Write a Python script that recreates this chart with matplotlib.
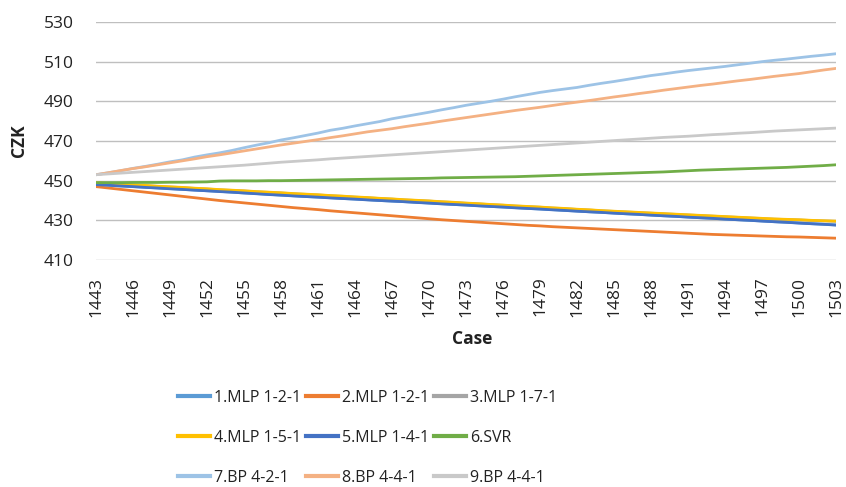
import matplotlib
matplotlib.use("Agg")
import matplotlib.pyplot as plt
from matplotlib.lines import Line2D

cases = list(range(1443, 1504))
tick_cases = list(range(1443, 1504, 3))
y_ticks = [410, 430, 450, 470, 490, 510, 530]

labels = ["1.MLP 1-2-1", "2.MLP 1-2-1", "3.MLP 1-7-1", "4.MLP 1-5-1", "5.MLP 1-4-1",
          "6.SVR", "7.BP 4-2-1", "8.BP 4-4-1", "9.BP 4-4-1"]
colors = ["#5B9BD5", "#ED7D31", "#A5A5A5", "#FFC000", "#4472C4", "#70AD47",
          "#9DC3E6", "#F4B183", "#C9C9C9"]

mlp_141 = [448.0, 447.7, 447.3, 447.0, 446.6, 446.3, 445.9, 445.6, 445.2, 444.9,
           444.5, 444.2, 443.8, 443.4, 443.0, 442.7, 442.3, 442.0, 441.7, 441.3,
           441.0, 440.7, 440.3, 440.0, 439.7, 439.4, 439.0, 438.7, 438.3, 438.0,
           437.7, 437.3, 437.0, 436.7, 436.3, 436.0, 435.7, 435.3, 435.0, 434.6,
           434.3, 434.0, 433.6, 433.3, 433.0, 432.6, 432.3, 432.0, 431.6, 431.3,
           431.0, 430.6, 430.3, 430.0, 429.6, 429.3, 429.0, 428.6, 428.3, 428.0,
           427.6]
mlp_121a = [448.1, 447.7, 447.4, 447.0, 446.7, 446.3, 446.0, 445.6, 445.3, 444.9,
            444.6, 444.2, 443.8, 443.5, 443.1, 442.7, 442.4, 442.0, 441.7, 441.4,
            441.0, 440.7, 440.4, 440.0, 439.7, 439.4, 439.1, 438.7, 438.4, 438.0,
            437.7, 437.4, 437.0, 436.7, 436.4, 436.0, 435.7, 435.4, 435.0, 434.7,
            434.3, 434.0, 433.7, 433.3, 433.0, 432.7, 432.3, 432.0, 431.7, 431.3,
            431.0, 430.7, 430.3, 430.0, 429.7, 429.3, 429.0, 428.7, 428.3, 428.0,
            427.7]
mlp_121b = [447.0, 446.3, 445.6, 444.9, 444.2, 443.5, 442.8, 442.1, 441.4, 440.7,
            440.0, 439.4, 438.8, 438.2, 437.6, 437.0, 436.4, 435.9, 435.4, 434.8,
            434.3, 433.8, 433.3, 432.8, 432.3, 431.8, 431.3, 430.8, 430.3, 429.9,
            429.5, 429.1, 428.7, 428.3, 427.9, 427.5, 427.2, 426.8, 426.5, 426.2,
            425.9, 425.6, 425.3, 425.0, 424.7, 424.4, 424.1, 423.8, 423.5, 423.2,
            422.9, 422.7, 422.5, 422.3, 422.1, 421.9, 421.7, 421.6, 421.4, 421.2,
            421.0]
mlp_171 = [448.9, 448.5, 448.2, 447.8, 447.5, 447.1, 446.8, 446.5, 446.1, 445.8,
           445.4, 445.1, 444.8, 444.4, 444.1, 443.8, 443.4, 443.1, 442.8, 442.4,
           442.1, 441.7, 441.4, 441.0, 440.7, 440.3, 440.0, 439.7, 439.3, 439.0,
           438.6, 438.3, 437.9, 437.6, 437.2, 436.9, 436.6, 436.2, 435.9, 435.5,
           435.2, 434.8, 434.5, 434.2, 433.9, 433.6, 433.3, 433.0, 432.7, 432.4,
           432.1, 431.8, 431.5, 431.2, 430.9, 430.6, 430.4, 430.2, 429.9, 429.7,
           429.5]
mlp_151 = [449.0, 448.6, 448.3, 447.9, 447.6, 447.2, 446.9, 446.6, 446.2, 445.9,
           445.5, 445.2, 444.9, 444.5, 444.2, 443.9, 443.5, 443.2, 442.9, 442.5,
           442.2, 441.8, 441.5, 441.1, 440.8, 440.4, 440.1, 439.8, 439.4, 439.1,
           438.7, 438.4, 438.0, 437.7, 437.3, 437.0, 436.7, 436.3, 436.0, 435.6,
           435.3, 434.9, 434.6, 434.3, 434.0, 433.7, 433.4, 433.1, 432.8, 432.5,
           432.2, 431.9, 431.6, 431.3, 431.0, 430.7, 430.5, 430.3, 430.0, 429.8,
           429.6]
svr = [449.0, 449.0, 449.0, 449.1, 449.1, 449.1, 449.2, 449.2, 449.3, 449.4,
       449.8, 449.9, 449.9, 449.9, 450.0, 450.0, 450.1, 450.2, 450.3, 450.4,
       450.5, 450.6, 450.7, 450.8, 450.9, 451.0, 451.1, 451.2, 451.4, 451.5,
       451.6, 451.7, 451.8, 451.9, 452.0, 452.2, 452.4, 452.6, 452.8, 453.0,
       453.2, 453.4, 453.6, 453.8, 454.0, 454.2, 454.4, 454.7, 455.0, 455.3,
       455.5, 455.7, 455.9, 456.1, 456.3, 456.5, 456.7, 457.0, 457.3, 457.6,
       458.0]
bp_421 = [453.0, 454.0, 455.0, 456.2, 457.2, 458.3, 459.5, 460.5, 461.9, 463.0,
          464.0, 465.2, 466.6, 467.9, 469.1, 470.5, 471.6, 472.8, 474.0, 475.4,
          476.4, 477.6, 478.7, 479.8, 481.2, 482.3, 483.4, 484.5, 485.7, 486.8,
          488.0, 489.0, 490.0, 491.1, 492.3, 493.4, 494.5, 495.4, 496.2, 497.0,
          498.1, 499.1, 500.0, 501.0, 502.0, 503.0, 503.8, 504.7, 505.5, 506.2,
          506.9, 507.6, 508.4, 509.2, 510.0, 510.7, 511.3, 512.0, 512.7, 513.3,
          514.0]
bp_441a = [453.0, 454.0, 455.1, 456.1, 457.0, 458.0, 459.0, 460.0, 461.0, 462.1,
           463.0, 464.0, 465.0, 466.0, 467.0, 468.0, 468.9, 469.8, 470.7, 471.7,
           472.6, 473.6, 474.6, 475.4, 476.2, 477.2, 478.1, 479.0, 480.0, 480.9,
           481.8, 482.7, 483.6, 484.5, 485.4, 486.2, 487.0, 487.9, 488.8, 489.6,
           490.4, 491.3, 492.2, 493.0, 493.9, 494.7, 495.6, 496.4, 497.2, 498.0,
           498.7, 499.5, 500.3, 501.0, 501.8, 502.6, 503.3, 504.0, 504.9, 505.8,
           506.6]
bp_441b = [453.0, 453.4, 453.8, 454.2, 454.6, 455.0, 455.4, 455.8, 456.2, 456.6,
           457.0, 457.4, 457.8, 458.3, 458.8, 459.3, 459.7, 460.1, 460.5, 461.0,
           461.4, 461.8, 462.2, 462.6, 463.0, 463.4, 463.8, 464.2, 464.6, 465.0,
           465.4, 465.8, 466.2, 466.6, 467.0, 467.4, 467.8, 468.2, 468.6, 469.0,
           469.4, 469.8, 470.2, 470.6, 471.0, 471.4, 471.8, 472.1, 472.4, 472.8,
           473.2, 473.5, 473.9, 474.2, 474.6, 475.0, 475.3, 475.6, 475.9, 476.2,
           476.5]

series = [mlp_121a, mlp_121b, mlp_171, mlp_151, mlp_141, svr, bp_421, bp_441a, bp_441b]

plt.rcParams['font.family'] = ['Open Sans', 'DejaVu Sans']

W, H = 846, 487
fig = plt.figure(figsize=(W / 100, H / 100), dpi=100)
ax = fig.add_axes([96 / W, 1 - 260 / H, (836 - 96) / W, (260 - 22) / H])

for vals, lab, col in zip(series, labels, colors):
    ax.plot(cases, vals, color=col, lw=2.0, label=lab, solid_capstyle='round')

ax.set_xlim(1443, 1503)
ax.set_ylim(410, 530)
ax.set_yticks(y_ticks)
ax.set_xticks(tick_cases)
ax.set_xticklabels([str(c) for c in tick_cases], rotation=90)
ax.tick_params(axis='y', length=0, pad=16, labelsize=12.5)
ax.tick_params(axis='x', length=0, pad=12, labelsize=12.5)
for lab in ax.get_yticklabels() + ax.get_xticklabels():
    lab.set_color('#222222')
ax.grid(axis='y', color='#BFBFBF', lw=1.0)
ax.set_axisbelow(True)
for s in ax.spines.values():
    s.set_visible(False)

fig.text(19 / W, 1 - 141 / H, "CZK", rotation=90, ha='center', va='center',
         fontsize=12.5, fontweight='bold', color='#222222')
fig.text(472 / W, 1 - 339 / H, "Case", ha='center', va='center',
         fontsize=12.5, fontweight='bold', color='#222222')

order = [0, 3, 6, 1, 4, 7, 2, 5, 8]
leg_handles = [Line2D([0], [0], color=colors[i], lw=3.0) for i in order]
leg = fig.legend(leg_handles, [labels[i] for i in order], ncol=3,
                 loc='upper left', bbox_to_anchor=(178 / W, 1 - 390 / H),
                 frameon=False, fontsize=11.5, handlelength=2.0, handletextpad=0.25,
                 columnspacing=0.3, labelspacing=1.5, borderpad=0, borderaxespad=0)
for t in leg.get_texts():
    t.set_color('#222222')

fig.savefig("out.png", dpi=100)
